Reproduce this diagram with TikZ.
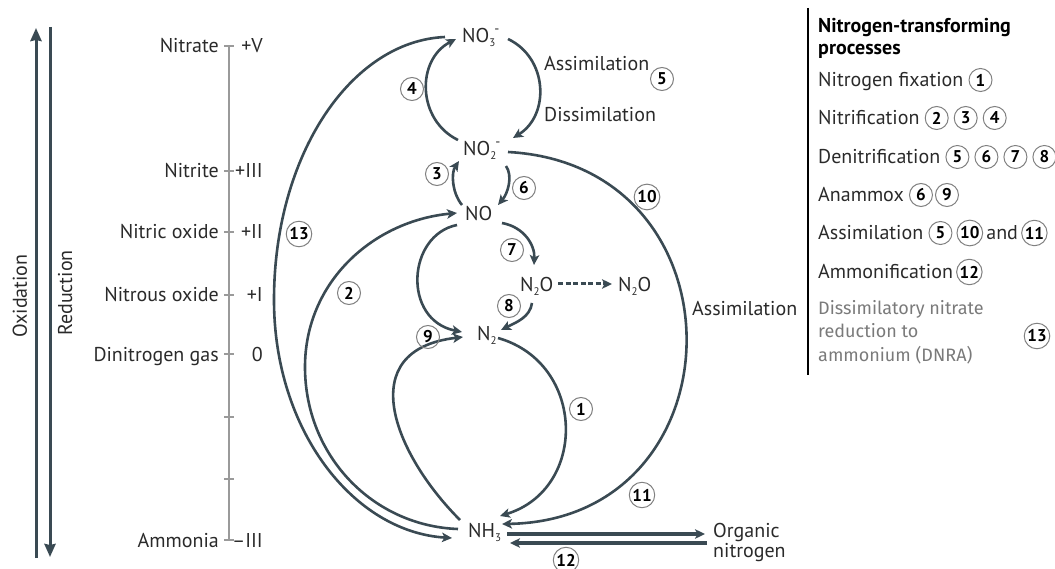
\documentclass[tikz,border=0pt]{standalone}
\usepackage{fontspec}
\setmainfont{PT Sans}
\newfontfamily\dnrafont{Fira Sans}
\usetikzlibrary{arrows.meta,positioning}

\definecolor{cyc}{HTML}{3A4A53}
\definecolor{ink}{HTML}{2A2A2A}
\definecolor{scalegray}{HTML}{9A9A9A}
\definecolor{dnragray}{HTML}{7A7A7A}

\newcommand{\chsub}[1]{\raisebox{-4pt}{\fontsize{11}{11}\selectfont #1}}
\newcommand{\chsup}[1]{\raisebox{9pt}{\fontsize{14}{14}\selectfont #1}}

\tikzset{
  flow/.style={draw=cyc, line width=2.6pt, -{Stealth[length=10pt,width=9.5pt,inset=2.5pt]}},
  chem/.style={anchor=west, inner sep=0pt, text=ink, font=\fontsize{20}{20}\selectfont, text height=14pt, text depth=0pt},
  lbl/.style={chem},
  numcirc/.style={circle, draw=gray, line width=1pt, inner sep=1pt, minimum size=23pt, text=black, font=\fontsize{17}{17}\selectfont\bfseries},
  axisarrow/.style={draw=cyc, line width=3pt, -{Stealth[length=13pt,width=11pt,inset=1pt]}},
}

\begin{document}
\begin{tikzpicture}[x=1pt,y=-1pt]
  \useasboundingbox (0,0) rectangle (1055,569);

  % oxidation / reduction
  \draw[axisarrow] (36,558) -- (36,28);
  \draw[axisarrow] (50,27) -- (50,557);
  \node[lbl, anchor=center, rotate=90] (oxlab) at (20,296) {Oxidation};
  \node[lbl, anchor=center, rotate=90] (redlab) at (65,293) {Reduction};

  % oxidation state scale
  \draw[scalegray, line width=1.2pt] (229,46) -- (229,540);
  \foreach \y/\sp/\ox in {46/Nitrate/+V, 171/Nitrite/+III, 232/Nitric oxide/+II,
                          295/Nitrous oxide/+I, 354/Dinitrogen gas/0, 540/Ammonia/--III}{
    \draw[scalegray, line width=1.2pt] (224,\y) -- (234,\y);
    \node[lbl, anchor=east] (state\y) at (219,\y) {\sp};
    \node[lbl, anchor=east] (ox\y) at (263,\y) {\ox};
  }
  \foreach \y in {417,479}
    \draw[scalegray, line width=1.2pt] (224,\y) -- (234,\y);

  % species
  \node[chem] (no3) at (462,36) {NO\chsub{3}\kern-1pt\chsup{-}};
  \node[chem] (no2) at (463,149) {NO\chsub{2}\kern-1pt\chsup{-}};
  \node[chem] (no) at (465,214) {NO};
  \node[chem] (n2o) at (520,285) {N\chsub{2}O};
  \node[chem] (n2ob) at (618,285) {N\chsub{2}O};
  \node[chem] (n2) at (477,334) {N\chsub{2}};
  \node[chem] (nh3) at (468,530) {NH\chsub{3}};
  \node[anchor=west, inner sep=0pt, text=ink, align=left,
        font=\fontsize{20}{20}\selectfont] (org) at (713,542) {Organic\\nitrogen};

  % nitrate - nitrite
  \draw[flow] ([shift={(-5,-9)}]no2.west) .. controls +(-41,-20) and +(-40,21) .. ([shift={(-6,3)}]no3.west);
  \draw[flow] ([shift={(46,3)}]no3.west) .. controls +(40,19) and +(37,-23) .. ([shift={(50,-11)}]no2.west);
  \node[lbl] (assimtop) at (544,63.5) {Assimilation};
  \node[lbl] (dissim) at (544,115) {Dissimilation};

  % nitrite - nitric oxide - nitrous oxide - dinitrogen
  \draw[flow] ([shift={(-3,-9)}]no.west) .. controls +(-10,-12) and +(-8,12) .. ([shift={(-4,12)}]no2.west);
  \draw[flow] ([shift={(43,17)}]no2.west) .. controls +(7,10) and +(10,-12) .. ([shift={(33,-9)}]no.west);
  \draw[flow] ([shift={(37,9)}]no.west) .. controls +(22,4) and +(1,-20) .. ([shift={(14,-20)}]n2o.west);
  \draw[flow] ([shift={(12,18)}]n2o.west) .. controls +(-2,14) and +(16,-8) .. ([shift={(24,-4)}]n2.west);
  \draw[flow, line width=3pt, dash pattern=on 5pt off 2.5pt] ([shift={(38,-1)}]n2o.west) -- ([shift={(-6,-1)}]n2ob.west);

  % anammox
  \draw[flow] ([shift={(-8,11)}]no.west) .. controls +(-50,10) and +(-60,-12) .. ([shift={(-15,-2)}]n2.west);
  \draw[flow] ([shift={(-8,-10)}]nh3.west) .. controls +(-66,-66) and +(-111,13) .. ([shift={(-14,3)}]n2.west);

  % fixation
  \draw[flow] ([shift={(21,4)}]n2.west) .. controls +(88,25) and +(88,-27) .. ([shift={(32,-14)}]nh3.west);

  % assimilation of nitrite
  \draw[flow] ([shift={(45,3)}]no2.west) .. controls +(241,13) and +(241,-4) .. ([shift={(34,-6)}]nh3.west);
  \node[lbl] (assimright) at (692,309) {Assimilation};

  % nitrification and DNRA
  \draw[flow] ([shift={(-10,-1)}]nh3.west) .. controls +(-85,-3) and +(0,89) .. (305,367)
              .. controls +(0,-85) and +(-84,8) .. ([shift={(-8,-1)}]no.west);
  \draw[flow] ([shift={(-17,1)}]no3.west) .. controls +(-94,4) and +(0,-145) .. (274,300)
              .. controls +(0,131) and +(-98,-6) .. ([shift={(-16,8)}]nh3.west);

  % ammonification
  \draw[flow, line width=3.2pt] ([shift={(39,4)}]nh3.west) -- ([shift={(-8,-8)}]org.west);
  \draw[flow, line width=3.2pt] ([shift={(-6,1)}]org.west) -- ([shift={(42,13)}]nh3.west);

  % process numbers
  \node[numcirc] (n1) at (581,409) {1};
  \node[numcirc] (n2c) at (349,293) {2};
  \node[numcirc] (n3) at (437,174) {3};
  \node[numcirc] (n4) at (412,89) {4};
  \node[numcirc] (n5) at (662,79) {5};
  \node[numcirc] (n6) at (524,188) {6};
  \node[numcirc] (n7) at (512,250) {7};
  \node[numcirc] (n8) at (509,306) {8};
  \node[numcirc] (n9) at (428,337) {9};
  \node[numcirc] (n10) at (647,197) {10};
  \node[numcirc] (n11) at (642,495) {11};
  \node[numcirc] (n12) at (566,560) {12};
  \node[numcirc] (n13) at (299,234) {13};

  % legend
  \draw[black, line width=2.5pt] (808,8) -- (808,375);
  \node[anchor=north west, inner sep=0pt, align=left, text=black,
        font=\fontsize{20}{22}\selectfont\bfseries] (ltitle) at (818,18.5) {Nitrogen-transforming\\processes};
  \node[lbl] (lfix) at (818,80) {Nitrogen fixation};
  \node[numcirc, right=5pt of lfix] (lfix1) {1};
  \node[lbl] (lnit) at (818,118) {Nitrification};
  \node[numcirc, right=5pt of lnit] (lnit2) {2};
  \node[numcirc, right=5pt of lnit2] (lnit3) {3};
  \node[numcirc, right=5pt of lnit3] (lnit4) {4};
  \node[lbl] (lden) at (818,157) {Denitrification};
  \node[numcirc, right=5pt of lden] (lden5) {5};
  \node[numcirc, right=5pt of lden5] (lden6) {6};
  \node[numcirc, right=5pt of lden6] (lden7) {7};
  \node[numcirc, right=5pt of lden7] (lden8) {8};
  \node[lbl] (lana) at (818,195) {Anammox};
  \node[numcirc, right=5pt of lana] (lana6) {6};
  \node[numcirc, right=2pt of lana6] (lana9) {9};
  \node[lbl] (lass) at (818,233) {Assimilation};
  \node[numcirc, right=5pt of lass] (lass5) {5};
  \node[numcirc, right=4pt of lass5] (lass10) {10};
  \node[lbl, right=3pt of lass10] (land) {and};
  \node[numcirc, right=3pt of land] (lass11) {11};
  \node[lbl] (lamm) at (818,272) {Ammonification};
  \node[numcirc, right=3pt of lamm] (lamm12) {12};
  \node[anchor=north west, inner sep=0pt, align=left, text=dnragray,
        font=\dnrafont\fontsize{18}{23.5}\selectfont] (ldnra) at (818,300) {Dissimilatory nitrate\\reduction to\\ammonium (DNRA)};
  \node[numcirc] (ldnra13) at (1037,336) {13};
\end{tikzpicture}
\end{document}
